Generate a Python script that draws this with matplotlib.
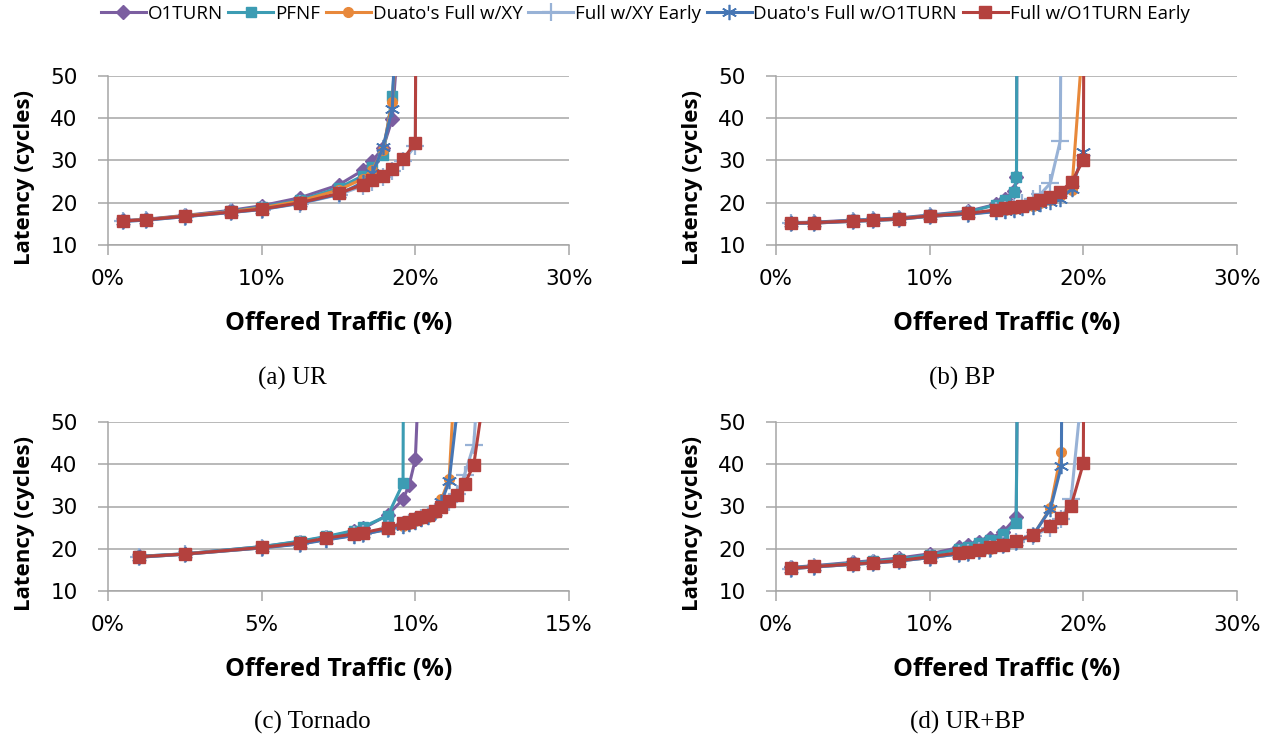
import numpy as np
import matplotlib
matplotlib.use('Agg')
import matplotlib.pyplot as plt

plt.rcParams['font.family'] = ['Open Sans', 'DejaVu Sans']

series_names = ["O1TURN", "PFNF", "Duato's Full w/XY", "Full w/XY Early",
                "Duato's Full w/O1TURN", "Full w/O1TURN Early"]

# (a) UR
ur_load = [1, 2.5, 5, 8, 10, 12.5, 15, 16.6, 17.2, 17.9, 18.5, 19.2, 20.0, 20.5]
ur_o1turn = [15.8, 16.1, 17.0, 18.2, 19.3, 21.2, 24.2, 27.7, 29.9, 33.0, 39.8, 75, None, None]
ur_pfnf = [15.7, 16.0, 16.9, 18.0, 19.0, 20.6, 23.5, 26.4, 28.5, 31.2, 45.3, 78, None, None]
ur_duato_xy = [15.7, 16.0, 16.9, 17.9, 18.8, 20.4, 23.0, 25.7, 27.8, 32.5, 43.9, 80, None, None]
ur_xy_early = [15.6, 15.9, 16.7, 17.7, 18.4, 19.8, 21.9, 24.0, 25.0, 26.0, 27.6, 29.8, 33.5, 500]
ur_duato_o1 = [15.6, 15.9, 16.7, 17.7, 18.4, 19.9, 22.0, 24.8, 27.0, 33.1, 42.3, 110, None, None]
ur_o1_early = [15.7, 16.0, 16.8, 17.8, 18.5, 20.0, 22.2, 24.3, 25.3, 26.3, 28.0, 30.3, 34.2, 500]

# (b) BP
bp_load = [1, 2.5, 5, 6.3, 8, 10, 12.5, 14.3, 14.9, 15.5, 15.65, 16.0, 16.7, 17.2,
           17.85, 18.5, 19.25, 20.0, 20.5]
bp_o1turn = [15.3, 15.4, 15.9, 16.1, 16.4, 17.1, 18.0, 19.6, 20.9, 22.8, 26.2, 500,
             None, None, None, None, None, None, None]
bp_pfnf = [15.2, 15.3, 15.8, 16.0, 16.3, 17.0, 17.8, 19.5, 20.7, 22.5, 26.0, 500,
           None, None, None, None, None, None, None]
bp_duato_xy = [15.1, 15.2, 15.6, 15.8, 16.1, 16.8, 17.3, 18.0, 18.3, 18.6, None, 18.9,
               19.3, 19.9, 20.6, 21.6, 23.0, 60, None]
bp_xy_early = [15.1, 15.2, 15.6, 15.8, 16.1, 16.8, 17.3, 18.1, 18.4, 18.7, None, 20.0,
               20.8, 22.0, 24.6, 34.7, 500, None, None]
bp_duato_o1 = [15.1, 15.2, 15.6, 15.8, 16.1, 16.8, 17.3, 17.9, 18.1, 18.4, None, 18.7,
               19.1, 19.6, 20.2, 21.0, 23.2, 32.1, None]
bp_o1_early = [15.2, 15.3, 15.7, 15.9, 16.2, 16.9, 17.5, 18.3, 18.7, 19.1, None, 19.3,
               19.9, 20.7, 21.4, 22.6, 25.0, 30.1, 500]

# (c) Tornado
tor_load = [1, 2.5, 5, 6.25, 7.1, 8.0, 8.3, 9.1, 9.6, 9.8, 10.0, 10.2, 10.4, 10.65,
            10.85, 11.1, 11.35, 11.6, 11.9, 12.3]
tor_o1turn = [18.2, 18.8, 20.5, 21.7, 22.8, 24.1, 24.8, 28.0, 31.7, 35.1, 41.2, 76,
              None, None, None, None, None, None, None, None]
tor_pfnf = [18.2, 18.8, 20.5, 21.8, 22.9, 24.3, 25.2, 27.8, 35.5, 500,
            None, None, None, None, None, None, None, None, None, None]
tor_duato_xy = [18.0, 18.7, 20.2, 21.2, 22.2, 23.2, 23.5, 24.6, 25.5, 25.9, 26.5, 27.0,
                27.6, 28.5, 31.7, 36.5, 70, None, None, None]
tor_xy_early = [18.0, 18.7, 20.2, 21.2, 22.2, 23.2, 23.5, 24.7, 25.6, 26.0, 26.6, 27.2,
                27.8, 28.7, 29.7, 31.0, 33.0, 37.5, 44.5, 88]
tor_duato_o1 = [18.0, 18.7, 20.2, 21.1, 22.1, 23.1, 23.4, 24.6, 25.5, 25.9, 26.4, 27.0,
                27.6, 28.6, 31.0, 36.0, 52, 500, None, None]
tor_o1_early = [18.1, 18.75, 20.3, 21.4, 22.5, 23.5, 23.8, 25.0, 26.0, 26.4, 27.0, 27.6,
                28.1, 29.0, 30.0, 31.3, 32.7, 35.3, 39.8, 60]

# (d) UR+BP
mix_load = [1, 2.5, 5, 6.3, 8, 10, 11.94, 12.5, 13.2, 13.94, 14.77, 15.63, 16.72,
            17.85, 18.57, 19.2, 20.0, 20.5]
mix_o1turn = [15.6, 16.0, 16.8, 17.2, 17.8, 18.8, 20.3, 20.9, 21.7, 22.5, 23.9, 27.4, 500,
              None, None, None, None, None]
mix_pfnf = [15.5, 15.9, 16.6, 17.0, 17.5, 18.5, 19.9, 20.5, 21.3, 22.1, 23.4, 26.2, 500,
            None, None, None, None, None]
mix_duato_xy = [15.3, 15.7, 16.3, 16.6, 17.1, 17.9, 18.8, 19.1, 19.5, 20.0, 20.8, 21.7,
                23.0, 29.6, 43.0, None, None, None]
mix_xy_early = [15.3, 15.7, 16.3, 16.6, 17.1, 17.9, 18.8, 19.1, 19.5, 20.0, 20.8, 21.7,
                23.0, 25.0, 27.0, 31.7, 61, None]
mix_duato_o1 = [15.3, 15.7, 16.3, 16.6, 17.1, 17.9, 18.8, 19.1, 19.5, 20.0, 20.8, 21.7,
                23.2, 29.3, 39.6, 500, None, None]
mix_o1_early = [15.4, 15.8, 16.4, 16.7, 17.2, 18.1, 19.1, 19.3, 19.7, 20.3, 21.0, 21.9,
                23.3, 25.4, 27.2, 30.1, 40.2, 500]

colors = ['#7B5EA0', '#3C9CB3', '#E8883A', '#98B2D6', '#4676B4', '#B4413E']
markers = ['D', 's', 'o', '+', (6, 2, 0), 's']
msizes = [7, 7, 7, 13, 11, 8]

panels = [
    (ur_load, [ur_o1turn, ur_pfnf, ur_duato_xy, ur_xy_early, ur_duato_o1, ur_o1_early],
     [0, 10, 20, 30], ['0%', '10%', '20%', '30%']),
    (bp_load, [bp_o1turn, bp_pfnf, bp_duato_xy, bp_xy_early, bp_duato_o1, bp_o1_early],
     [0, 10, 20, 30], ['0%', '10%', '20%', '30%']),
    (tor_load, [tor_o1turn, tor_pfnf, tor_duato_xy, tor_xy_early, tor_duato_o1, tor_o1_early],
     [0, 5, 10, 15], ['0%', '5%', '10%', '15%']),
    (mix_load, [mix_o1turn, mix_pfnf, mix_duato_xy, mix_xy_early, mix_duato_o1, mix_o1_early],
     [0, 10, 20, 30], ['0%', '10%', '20%', '30%']),
]
captions = ['(a) UR', '(b) BP', '(c) Tornado', '(d) UR+BP']

W, H = 1271, 736
fig = plt.figure(figsize=(W / 100, H / 100), dpi=100)

# axes boxes in pixels (left, right, top, bottom)
boxes = [(108, 569, 76, 245), (776, 1237, 76, 245),
         (108, 569, 422, 591), (776, 1237, 422, 591)]
caption_pos = [(292, 378), (962, 378), (312, 722), (967, 722)]
grey = '#A6A6A6'

handles = []
for k, (load, ys, xt, xtl) in enumerate(panels):
    l, r, t, b = boxes[k]
    ax = fig.add_axes([l / W, 1 - b / H, (r - l) / W, (b - t) / H])
    for i, vals in enumerate(ys):
        px = [x for x, v in zip(load, vals) if v is not None]
        py = [v for v in vals if v is not None]
        mew = 1.6 if markers[i] == '+' else (1.2 if i == 4 else 1)
        h, = ax.plot(px, py, color=colors[i], lw=2.2, marker=markers[i],
                     ms=msizes[i], mec=colors[i], mfc=colors[i], mew=mew,
                     label=series_names[i], clip_on=True)
        if k == 0:
            handles.append(h)
    ax.set_xlim(xt[0], xt[-1])
    ax.set_ylim(10, 50)
    ax.set_xticks(xt)
    ax.set_xticklabels(xtl)
    ax.set_yticks([10, 20, 30, 40, 50])
    ax.yaxis.grid(True, color=grey, lw=1.1)
    ax.set_axisbelow(True)
    for s in ['top', 'right']:
        ax.spines[s].set_visible(False)
    for s in ['left', 'bottom']:
        ax.spines[s].set_color(grey)
        ax.spines[s].set_linewidth(1.1)
    ax.tick_params(axis='both', direction='out', color=grey, width=1.1, length=7)
    ax.tick_params(axis='x', pad=10)
    ax.tick_params(axis='y', pad=15)
    for lab in ax.get_xticklabels() + ax.get_yticklabels():
        lab.set_family('DejaVu Sans')
        lab.set_fontsize(15.5)
    ax.set_xlabel('Offered Traffic (%)', fontsize=18, fontweight='bold')
    ax.xaxis.set_label_coords(0.5, -0.39)
    ax.set_ylabel('Latency (cycles)', fontsize=16, fontweight='bold')
    ax.yaxis.set_label_coords(-0.158, 0.40)
    cx, cy = caption_pos[k]
    fig.text(cx / W, 1 - cy / H, captions[k], ha='center', va='center',
             fontsize=18, family='Liberation Serif')

fig.legend(handles=handles, loc='center', bbox_to_anchor=(645 / W, 1 - 14 / H),
           ncol=6, frameon=False, fontsize=13.5, handlelength=2.4,
           handletextpad=0.1, columnspacing=0.3, borderaxespad=0)

fig.savefig('out.png', dpi=100)
